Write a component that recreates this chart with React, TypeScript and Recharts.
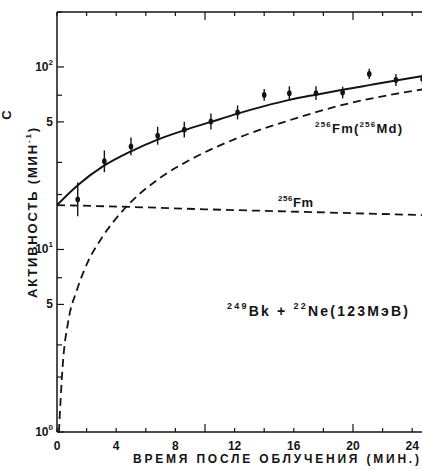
import React from "react";
import { ComposedChart, Line, Scatter, ErrorBar, XAxis, YAxis } from "recharts";

// measured activity after irradiation (counts per minute)
const measTime = [1.4, 3.2, 5.0, 6.8, 8.6, 10.4, 12.2, 14.0, 15.7, 17.5, 19.3, 21.1, 22.9, 24.7];
const measRate = [18.8, 30.4, 36.7, 42, 45.3, 50.2, 56.3, 70.3, 71.8, 71.8, 72.4, 91.6, 84.9, 86];
const errLow = [3.6, 3.9, 3.9, 4.5, 4.3, 4.8, 4.7, 5.1, 6.0, 6.0, 5.2, 5.6, 6.2, 6.2];
const errHigh = [4.5, 4.5, 4.4, 5.0, 4.8, 5.3, 5.2, 5.5, 6.6, 6.6, 5.6, 6.0, 6.6, 6.7];

// fitted total activity
const sumTime = [0, 1.4, 3.1, 5, 6.8, 8.6, 10.4, 12.2, 14, 15.7, 17.5, 19.3, 21.1, 23, 25];
const sumRate = [17.5, 22.5, 28.5, 34.5, 40, 45, 50, 55.5, 61, 66, 70.5, 75, 79.5, 84.5, 90];

// 256Fm grown in from 256Md
const mdTime = [0.13, 0.4, 0.75, 1.35, 2.1, 3, 4.5, 7, 9, 12.1, 15.7, 19.3, 23, 25];
const mdRate = [1, 2.4, 4, 6, 8.6, 11.5, 16.5, 24.8, 31, 40.5, 51, 62, 71.5, 76];

// directly produced 256Fm
const fmTime = [0, 5, 10, 15, 20, 25];
const fmRate = [17.5, 17.1, 16.6, 16.2, 15.8, 15.4];

const xTicks = [0, 2, 4, 6, 8, 10, 12, 14, 16, 18, 20, 22, 24];
const xLabels = [0, 4, 8, 12, 16, 20, 24];
const yTicks = [1, 2, 3, 4, 5, 6, 7, 8, 9, 10, 20, 30, 40, 50, 60, 70, 80, 90, 100, 200];
const yLabels: Record<number, [string, string]> = {
  1: ["10", "0"],
  5: ["5", ""],
  10: ["10", "1"],
  50: ["5", ""],
  100: ["10", "2"],
};

const INK = "#141414";
const FONT = "'Liberation Sans', Arial, sans-serif";

const points = measTime.map((x, i) => ({ x, y: measRate[i], err: [errLow[i], errHigh[i]] }));
const toXY = (xs: number[], ys: number[]) => xs.map((x, i) => ({ x, y: ys[i] }));

function LeftTick({ x, y, payload }: any) {
  const v = payload.value;
  const lab = yLabels[v];
  return (
    <g>
      <line x1={x} y1={y} x2={x + (lab ? 7 : 5)} y2={y} stroke={INK} strokeWidth={1.2} />
      {lab && (
        <text x={x - 4} y={y + 4} textAnchor="end" fontFamily={FONT} fontWeight="bold" fontSize={12} fill={INK}>
          {lab[0]}
          {lab[1] && (
            <tspan fontSize={8} dy={-6}>
              {lab[1]}
            </tspan>
          )}
        </text>
      )}
    </g>
  );
}

function BottomTick({ x, y, payload }: any) {
  const v = payload.value;
  const len = v === 10 || v === 20 ? 8 : 4;
  return (
    <g>
      <line x1={x} y1={y} x2={x} y2={y - len} stroke={INK} strokeWidth={1.2} />
      {xLabels.includes(v) && (
        <text x={x} y={y + 18} textAnchor="middle" fontFamily={FONT} fontWeight="bold" fontSize={12} fill={INK}>
          {v}
        </text>
      )}
    </g>
  );
}

function TopTick({ x, y, payload }: any) {
  const v = payload.value;
  const len = v === 10 || v === 20 ? 8 : 4;
  return <line x1={x} y1={y} x2={x} y2={y + len} stroke={INK} strokeWidth={1.2} />;
}

const Dot = (p: any) => <ellipse cx={p.cx} cy={p.cy} rx={2.3} ry={3} fill={INK} />;

export default function App() {
  const txt = { fontFamily: FONT, fontWeight: "bold" as const, fill: INK };
  return (
    <div style={{ position: "fixed", left: 0, top: 0, width: 422, height: 471, overflow: "hidden", background: "#fff" }}>
      <ComposedChart width={440} height={471} margin={{ top: 11, left: 56, right: 13, bottom: 38 }}>
        <XAxis
          xAxisId={0}
          type="number"
          dataKey="x"
          domain={[0, 25]}
          ticks={xTicks}
          allowDataOverflow
          height={1}
          tickSize={0}
          tickMargin={0}
          tick={<BottomTick />}
          axisLine={{ stroke: INK, strokeWidth: 1.5 }}
        />
        <XAxis
          xAxisId="top"
          orientation="top"
          type="number"
          dataKey="x"
          domain={[0, 25]}
          ticks={xTicks}
          allowDataOverflow
          height={1}
          tickSize={0}
          tickMargin={0}
          tick={<TopTick />}
          axisLine={{ stroke: INK, strokeWidth: 1.5 }}
        />
        <YAxis
          type="number"
          scale="log"
          domain={[1, 200]}
          ticks={yTicks}
          allowDataOverflow
          width={1}
          tickSize={0}
          tickMargin={0}
          tick={<LeftTick />}
          axisLine={{ stroke: INK, strokeWidth: 1.5 }}
        />
        <Line
          data={toXY(fmTime, fmRate)}
          dataKey="y"
          type="monotone"
          stroke={INK}
          strokeWidth={1.8}
          strokeDasharray="8 5"
          dot={false}
          isAnimationActive={false}
        />
        <Line
          data={toXY(mdTime, mdRate)}
          dataKey="y"
          type="monotone"
          stroke={INK}
          strokeWidth={1.8}
          strokeDasharray="8 5"
          dot={false}
          isAnimationActive={false}
        />
        <Line
          data={toXY(sumTime, sumRate)}
          dataKey="y"
          type="monotone"
          stroke={INK}
          strokeWidth={2}
          dot={false}
          isAnimationActive={false}
        />
        <Scatter data={points} dataKey="y" shape={<Dot />} isAnimationActive={false}>
          <ErrorBar dataKey="err" direction="y" width={0} stroke={INK} strokeWidth={1.4} />
        </Scatter>
      </ComposedChart>

      <svg width={422} height={471} style={{ position: "absolute", left: 0, top: 0, pointerEvents: "none" }}>
        <text {...txt} x={315} y={133} fontSize={13} textLength={87} lengthAdjust="spacing">
          <tspan fontSize={8} dy={-6}>256</tspan>
          <tspan dy={6}>Fm(</tspan>
          <tspan fontSize={8} dy={-6}>256</tspan>
          <tspan dy={6}>Md)</tspan>
        </text>
        <text {...txt} x={278} y={207} fontSize={13} textLength={35} lengthAdjust="spacing">
          <tspan fontSize={8} dy={-6}>256</tspan>
          <tspan dy={6}>Fm</tspan>
        </text>
        <text {...txt} x={227} y={316} fontSize={14} textLength={181} lengthAdjust="spacing">
          <tspan fontSize={9} dy={-7}>249</tspan>
          <tspan dy={7}>Bk + </tspan>
          <tspan fontSize={9} dy={-7}>22</tspan>
          <tspan dy={7}>Ne(123МэВ)</tspan>
        </text>
        <text {...txt} x={133} y={463} fontSize={12} textLength={286} lengthAdjust="spacing">
          ВРЕМЯ ПОСЛЕ ОБЛУЧЕНИЯ (МИН.)
        </text>
        <text
          {...txt}
          x={37}
          y={213}
          fontSize={13}
          textAnchor="middle"
          textLength={170}
          lengthAdjust="spacing"
          transform="rotate(-90 37 213)"
        >
          АКТИВНОСТЬ (МИН
          <tspan fontSize={8} dy={-6}>-1</tspan>
          <tspan dy={6}>)</tspan>
        </text>
        <text {...txt} x={11} y={115} fontSize={13} textAnchor="middle" transform="rotate(-90 11 115)">
          С
        </text>
      </svg>
    </div>
  );
}
